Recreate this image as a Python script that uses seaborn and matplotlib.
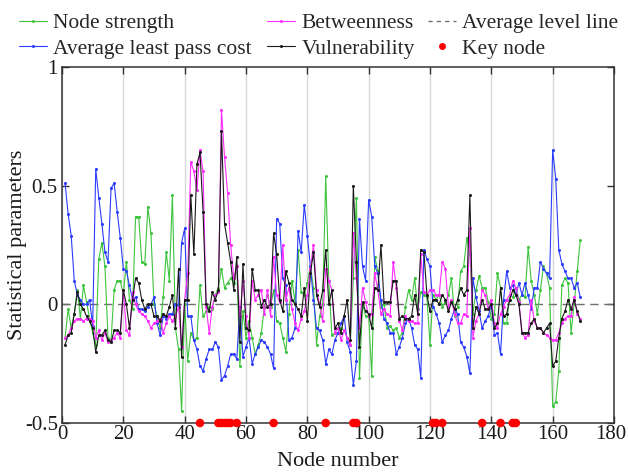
import numpy as np
import pandas as pd
import matplotlib
matplotlib.use("Agg")
import matplotlib.pyplot as plt
import matplotlib.transforms as mtransforms
import seaborn as sns
from matplotlib.lines import Line2D

# ---------------- data ----------------
nodes = list(range(1, 170))

node_strength = [
    -0.14, -0.02, -0.10, -0.04, 0.06, -0.06, 0.08, 0.01, -0.06, -0.12,
    -0.17, 0.19, 0.26, 0.16, -0.14, -0.15, 0.06, 0.10, 0.10, 0.04,
    0.18, 0.02, -0.02, 0.37, 0.37, 0.18, 0.17, 0.41, 0.30, 0.00,
    -0.05, -0.10, 0.03, 0.22, 0.10, 0.46, -0.10, -0.19, -0.45, 0.00,
    -0.24, -0.12, -0.15, -0.14, 0.08, -0.05, -0.03, -0.01, -0.02, 0.04,
    0.07, 0.15, 0.07, 0.09, 0.11, 0.09, 0.16, -0.26, -0.03, -0.14,
    -0.07, -0.14, -0.21, -0.17, -0.12, -0.01, 0.04, -0.01, 0.06, -0.07,
    -0.08, -0.14, -0.20, -0.04, 0.10, 0.01, 0.23, 0.05, 0.04, 0.09,
    0.16, 0.07, -0.17, -0.05, 0.00, 0.54, 0.10, -0.13, -0.12, -0.12,
    -0.10, -0.11, -0.14, -0.17, 0.11, 0.45, -0.31, 0.00, -0.05, -0.05,
    -0.30, 0.20, 0.14, -0.01, 0.00, -0.10, -0.09, -0.11, -0.10, -0.14,
    -0.12, -0.01, 0.06, 0.02, 0.11, -0.02, 0.05, 0.04, 0.03, -0.17,
    0.04, 0.02, 0.04, -0.01, 0.01, 0.04, 0.11, -0.05, -0.01, 0.14,
    0.16, 0.28, 0.21, -0.04, 0.06, 0.12, 0.07, 0.07, 0.01, -0.06,
    -0.04, 0.13, 0.07, -0.08, -0.08, 0.04, 0.03, 0.07, 0.02, 0.04,
    0.03, 0.24, 0.10, 0.04, -0.04, 0.06, 0.16, 0.13, 0.07, -0.43,
    -0.41, -0.28, 0.08, 0.11, 0.09, -0.12, 0.00, 0.14, 0.27,
]

avg_least_pass_cost = [
    0.51, 0.38, 0.29, 0.10, 0.04, 0.02, 0.00, 0.00, 0.02, -0.09,
    0.57, 0.45, 0.34, 0.22, 0.18, 0.49, 0.51, 0.39, 0.28, 0.15,
    0.14, 0.08, 0.02, 0.03, -0.02, -0.02, -0.03, -0.01, 0.00, 0.03,
    -0.08, -0.13, -0.05, -0.06, -0.04, -0.04, 0.00, -0.01, 0.26, 0.32,
    -0.05, -0.05, -0.15, -0.19, -0.26, -0.28, -0.23, -0.19, -0.19, -0.16,
    -0.18, -0.32, -0.30, -0.26, -0.21, -0.21, -0.23, -0.01, -0.22, -0.18,
    -0.14, -0.25, -0.21, -0.18, -0.15, -0.16, -0.18, -0.21, -0.27, 0.36,
    0.34, 0.11, 0.08, -0.15, -0.14, -0.10, 0.31, 0.22, 0.42, 0.29,
    0.16, 0.02, -0.10, -0.11, -0.15, -0.25, -0.19, -0.21, -0.15, -0.12,
    -0.08, -0.05, -0.16, -0.20, -0.34, -0.24, 0.36, 0.16, 0.10, 0.44,
    0.37, 0.16, 0.13, 0.02, -0.06, -0.08, -0.12, -0.12, -0.21, -0.18,
    -0.14, -0.08, -0.06, -0.10, -0.17, -0.19, -0.31, 0.23, 0.19, 0.16,
    -0.01, -0.04, -0.08, -0.16, -0.13, -0.11, -0.06, -0.02, -0.04, -0.16,
    -0.18, -0.22, -0.29, 0.11, 0.03, -0.03, -0.10, -0.07, -0.05, 0.00,
    -0.13, -0.12, -0.21, 0.02, 0.14, 0.07, 0.08, 0.04, 0.09, 0.04,
    0.09, 0.04, -0.02, 0.07, 0.07, 0.18, 0.15, 0.13, 0.11, 0.65,
    0.53, 0.23, 0.17, 0.14, 0.11, 0.11, 0.07, 0.09, 0.03,
]

betweenness = [
    -0.14, -0.13, -0.10, -0.07, -0.06, -0.06, -0.07, -0.06, -0.06, -0.07,
    -0.14, -0.11, -0.15, -0.12, -0.16, -0.15, -0.14, -0.12, -0.14, 0.06,
    -0.11, -0.13, 0.05, 0.00, -0.03, -0.04, -0.05, -0.07, -0.10, -0.08,
    -0.07, -0.06, -0.12, -0.08, -0.05, -0.07, -0.05, -0.01, -0.18, 0.02,
    0.13, 0.60, 0.56, 0.48, 0.65, 0.56, -0.01, -0.12, -0.01, 0.04,
    0.05, 0.82, 0.62, 0.47, 0.25, 0.11, 0.16, -0.05, 0.10, -0.05,
    -0.14, 0.10, 0.02, 0.04, 0.06, -0.04, 0.06, -0.05, 0.20, 0.04,
    0.01, 0.25, 0.02, 0.07, -0.02, -0.08, -0.11, -0.06, -0.03, 0.04,
    0.15, 0.25, 0.06, 0.00, -0.07, 0.15, 0.10, 0.06, -0.12, -0.10,
    -0.15, -0.11, -0.14, -0.17, 0.30, 0.11, -0.10, 0.07, 0.01, -0.05,
    -0.04, 0.13, 0.06, -0.04, -0.02, -0.04, -0.05, 0.18, 0.07, -0.07,
    -0.11, -0.05, -0.07, -0.07, -0.08, -0.08, 0.21, 0.05, 0.04, 0.06,
    0.06, 0.04, 0.04, 0.18, 0.15, -0.01, 0.02, -0.04, -0.08, -0.08,
    -0.04, -0.05, 0.32, -0.14, -0.07, -0.04, 0.06, 0.04, -0.02, 0.02,
    -0.08, -0.10, -0.04, -0.01, 0.02, 0.04, 0.10, 0.07, 0.01, -0.12,
    -0.14, -0.13, 0.02, -0.07, -0.10, -0.10, -0.12, -0.13, -0.14, -0.15,
    -0.15, -0.12, -0.08, -0.06, -0.05, -0.05, 0.03, -0.04, -0.06,
]

vulnerability = [
    -0.17, -0.13, -0.12, -0.04, 0.05, 0.00, -0.02, -0.05, -0.07, -0.10,
    -0.20, -0.13, -0.13, -0.11, -0.15, -0.16, -0.11, -0.11, -0.12, 0.06,
    0.00, -0.10, 0.02, 0.11, 0.09, 0.02, -0.02, 0.00, 0.00, -0.05,
    -0.05, -0.07, -0.04, -0.05, -0.01, 0.04, -0.10, 0.15, -0.22, 0.02,
    0.02, 0.46, 0.21, 0.59, 0.64, 0.39, 0.00, -0.03, 0.05, 0.02,
    0.06, 0.73, 0.34, 0.26, 0.18, 0.06, 0.20, -0.16, 0.17, -0.10,
    -0.11, 0.15, 0.06, 0.06, -0.01, 0.02, -0.01, 0.00, 0.30, 0.21,
    0.02, -0.03, 0.14, 0.09, 0.02, 0.00, -0.02, -0.05, 0.07, -0.07,
    0.13, 0.22, 0.04, -0.01, 0.06, 0.23, 0.00, 0.06, -0.10, -0.08,
    -0.12, -0.05, 0.02, -0.15, 0.50, 0.18, -0.18, 0.01, -0.03, -0.04,
    -0.10, 0.07, 0.06, 0.25, 0.01, 0.01, 0.01, 0.10, 0.10, -0.06,
    -0.05, -0.06, -0.06, -0.05, 0.04, -0.04, 0.23, 0.22, 0.04, -0.03,
    0.02, 0.02, 0.00, 0.04, 0.02, -0.03, 0.01, -0.02, 0.02, 0.07,
    0.04, 0.06, 0.46, -0.10, -0.01, -0.04, 0.02, -0.02, -0.02, 0.00,
    -0.10, -0.08, 0.07, -0.05, -0.04, 0.02, 0.06, 0.04, 0.00, -0.12,
    -0.12, -0.12, -0.08, -0.06, -0.10, -0.10, -0.12, -0.10, -0.08, -0.26,
    -0.24, -0.14, -0.06, -0.03, 0.02, -0.02, 0.02, -0.03, -0.07,
]

key_nodes = [45, 51, 52, 53, 54, 55, 57, 69, 86, 95, 96, 121, 122, 124,
             137, 143, 147, 148]
key_level = -0.5
average_level = 0.0

x_ticks = [0, 20, 40, 60, 80, 100, 120, 140, 160, 180]
y_ticks = [-0.5, 0, 0.5, 1]
y_tick_labels = ["-0.5", "0", "0.5", "1"]

# ---------------- style ----------------
sns.set_style("ticks")
plt.rcParams["font.family"] = ["Liberation Serif", "DejaVu Serif"]
plt.rcParams["axes.unicode_minus"] = False

c_green = "#3fc43f"
c_blue = "#2b3cff"
c_mag = "#ff2bff"
c_black = "#1a1a1a"

fig = plt.figure(figsize=(6.28, 4.72), dpi=100)
ax = fig.add_axes([62 / 628, 1 - 423 / 472, (614 - 62) / 628, (423 - 67) / 472])

df = pd.DataFrame({
    "node": nodes,
    "Node strength": node_strength,
    "Average least pass cost": avg_least_pass_cost,
    "Betweenness": betweenness,
    "Vulnerability": vulnerability,
})

series = [
    ("Node strength", c_green),
    ("Average least pass cost", c_blue),
    ("Betweenness", c_mag),
    ("Vulnerability", c_black),
]
for name, col in series:
    sns.lineplot(data=df, x="node", y=name, ax=ax, color=col, linewidth=0.8,
                 marker="o", markersize=2.2, markeredgewidth=0,
                 legend=False, zorder=3)

ax.axhline(average_level, color="#6e6e6e", lw=1.0, ls=(0, (6, 4)), zorder=2)

kdf = pd.DataFrame({"node": key_nodes, "level": [key_level] * len(key_nodes)})
sns.scatterplot(data=kdf, x="node", y="level", ax=ax, color="#ff0000", s=38,
                edgecolor="none", clip_on=False, zorder=6, legend=False)

ax.set_xlim(0, 180)
ax.set_ylim(-0.5, 1)
ax.set_xticks(x_ticks)
ax.set_yticks(y_ticks)
ax.set_yticklabels(y_tick_labels)
ax.xaxis.grid(True, color="#d8d8d8", lw=1.0)
ax.yaxis.grid(False)
ax.set_axisbelow(True)
ax.tick_params(direction="in", top=True, right=True, length=5, width=1,
               labelsize=15, colors="#333333", labelcolor="#1a1a1a")
ax.tick_params(axis="x", pad=1.5)
ax.tick_params(axis="y", pad=3)
for sp in ax.spines.values():
    sp.set_visible(True)
    sp.set_color("#333333")
    sp.set_linewidth(1.1)

# nudge the last x tick label so it stays inside the figure
fig.canvas.draw()
last = ax.get_xticklabels()[-1]
last.set_transform(last.get_transform() +
                   mtransforms.ScaledTranslation(-3 / 100, 0, fig.dpi_scale_trans))

ax.set_xlabel("Node number", fontsize=16, color="#1a1a1a", labelpad=6)
ax.set_ylabel("Statistical parameters", fontsize=16, color="#1a1a1a")
ax.yaxis.set_label_coords((27 - 62) / 552, 0.5)

# ---------------- legend (three columns) ----------------
def lh(col):
    return Line2D([], [], color=col, lw=0.8, marker="o", markersize=2.2,
                  markeredgewidth=0)

leg_kw = dict(frameon=False, fontsize=15.5, handlelength=1.3, handletextpad=0.3,
              labelspacing=0.25, borderaxespad=0, borderpad=0, loc="upper left")

top = 1 - 13 / 472
l1 = fig.legend([lh(c_green), lh(c_blue)], ["Node strength", "Average least pass cost"],
                bbox_to_anchor=(19 / 628, top), **leg_kw)
l2 = fig.legend([lh(c_mag), lh(c_black)], ["Betweenness", "Vulnerability"],
                bbox_to_anchor=(267 / 628, top), **leg_kw)
l3 = fig.legend([Line2D([], [], color="#6e6e6e", lw=1.0, ls=(0, (3, 3))),
                 Line2D([], [], color="#ff0000", lw=0, marker="o", markersize=5,
                        markeredgewidth=0)],
                ["Average level line", "Key node"],
                bbox_to_anchor=(428 / 628, top), **leg_kw)

fig.savefig("out.png", dpi=100)
